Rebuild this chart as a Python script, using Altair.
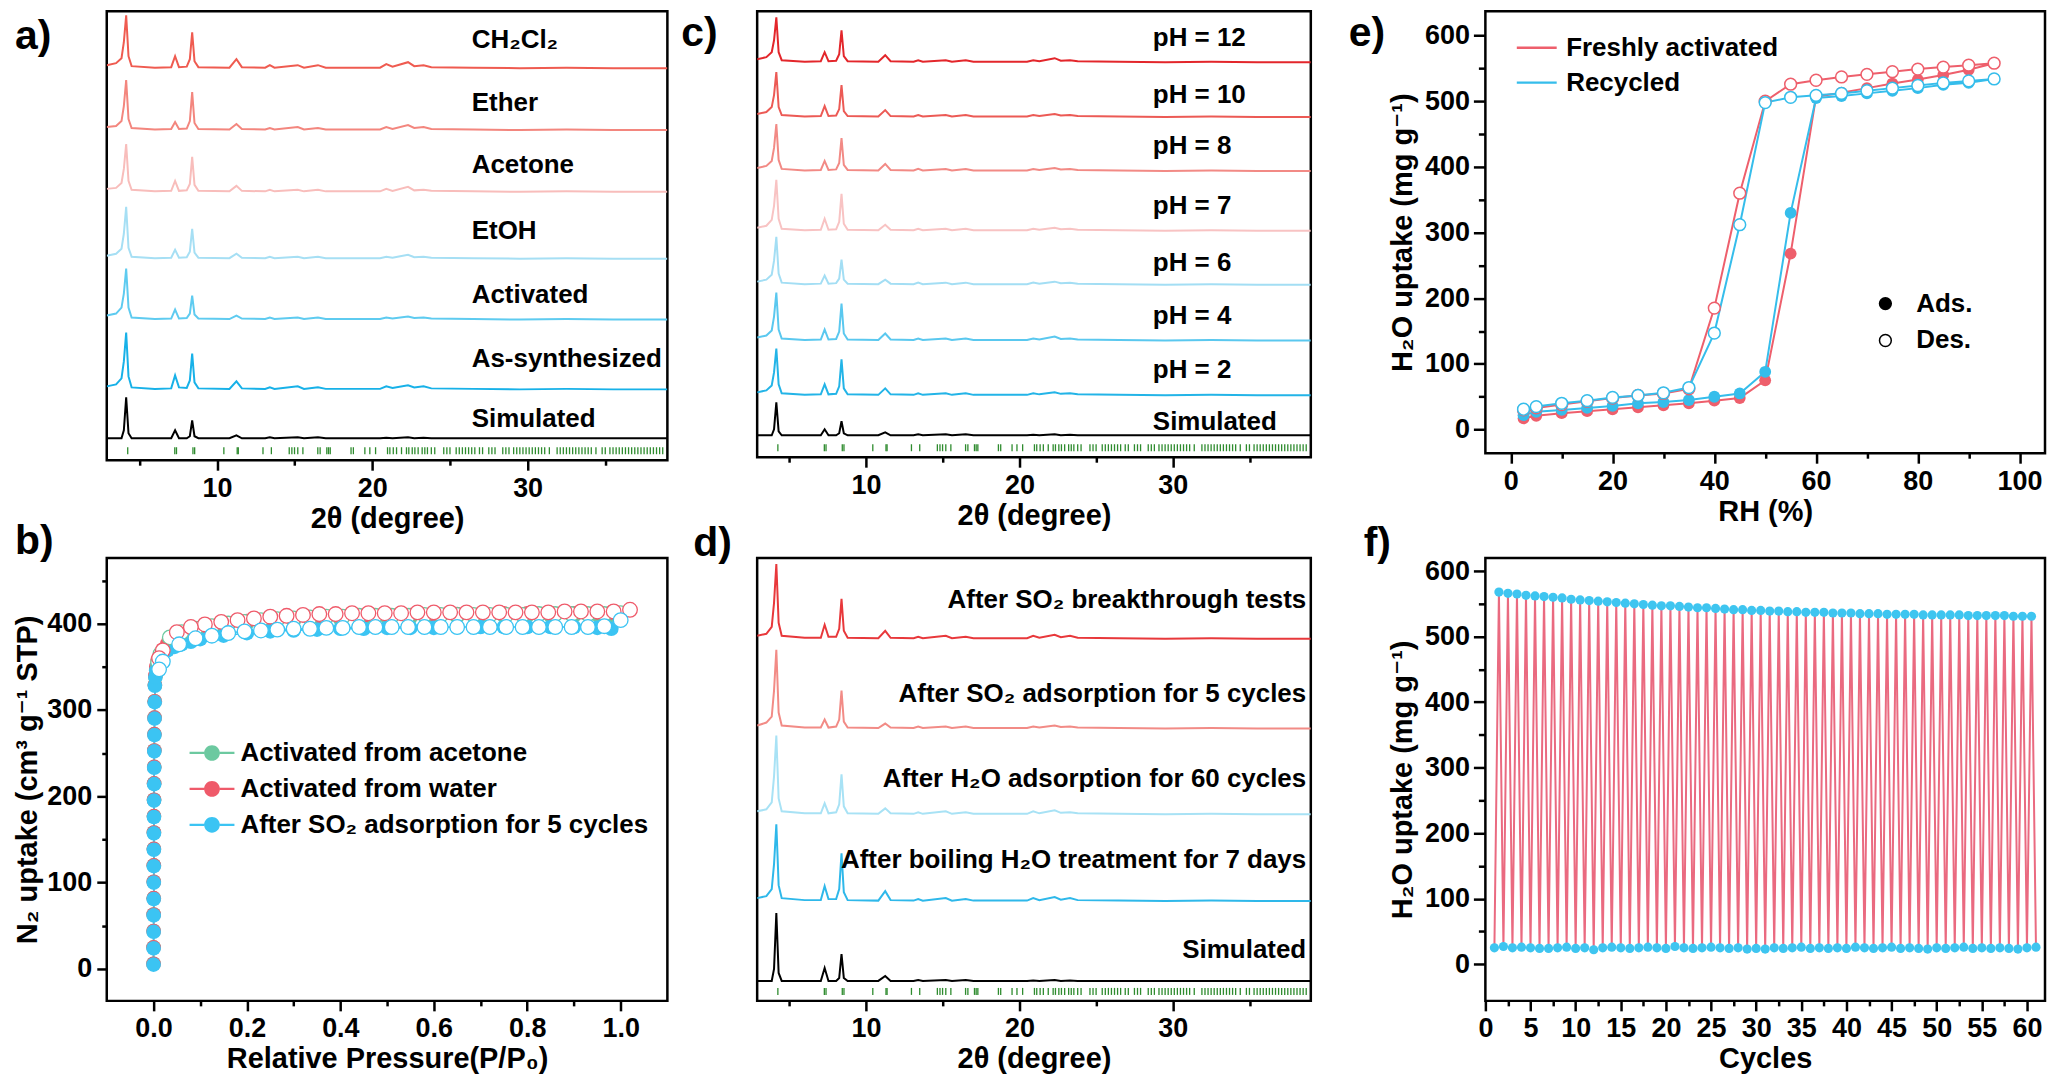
import altair as alt
import pandas as pd

FONT = "Liberation Sans, DejaVu Sans, sans-serif"

# ---------------- PXRD data (2-theta grid shared by all patterns) ----------------
TT = [2.9, 3.5, 3.85, 4.0, 4.15, 4.3, 4.5, 6.0, 7.05, 7.3, 7.55, 8.05, 8.25, 8.4, 8.55, 8.8,
      10.8, 11.25, 11.6, 13.1, 13.4, 13.7, 15.2, 15.6, 16.5, 17.0, 20.5, 20.9, 21.3, 22.3,
      22.7, 23.3, 23.8, 26.5, 29.5, 32.5, 35.5, 39.0]

BRAGG = [4.25, 7.28, 7.39, 8.45, 8.56, 10.44, 11.30, 11.37, 12.96, 13.50, 14.65, 14.82, 14.99,
         15.20, 15.53, 16.49, 16.64, 17.07, 17.18, 17.29, 18.63, 18.78, 19.52, 19.84, 20.21,
         20.98, 21.13, 21.35, 21.56, 21.88, 22.20, 22.35, 22.57, 22.74, 22.95, 23.21, 23.38,
         23.55, 23.80, 24.02, 24.6, 24.8, 25.0, 25.4, 25.6, 25.8, 26.0, 26.2, 26.4, 26.6, 26.9,
         27.1, 27.5, 27.7, 27.9, 28.4, 28.6, 28.8, 29.1, 29.3, 29.5, 29.7, 29.9, 30.1, 30.3,
         30.5, 30.7, 30.9, 31.1, 31.4, 31.9, 32.1, 32.3, 32.5, 32.7, 32.9, 33.1, 33.3, 33.5,
         33.7, 33.9, 34.1, 34.4, 34.8, 35.0, 35.3, 35.5, 35.7, 35.9, 36.1, 36.3, 36.5, 36.7,
         36.9, 37.1, 37.3, 37.5, 37.7, 37.9, 38.1, 38.3, 38.5, 38.7]

# panel a
A_NAMES = ["CH₂Cl₂", "Ether", "Acetone", "EtOH", "Activated", "As-synthesized", "Simulated"]
A_COLORS = ["#EF5B50", "#F3867E", "#F8BDBB", "#A6DFF4", "#5ECBF0", "#17B1E8", "#000000"]
A_CH2CL2 = [3, 5, 10, 26, 53, 12, 2, 0.5, 1, 12, 1, 1.5, 9, 36, 7, 1, 0.5, 9, 1, 0.5, 3, 0.5, 3, 0.5, 3, 0.5, 0.5, 4, 1.5, 6, 2, 3, 1, 0.5, 0, 0.5, 0, 0]
A_ETHER = [3, 4, 9, 24, 50, 11, 2, 0.5, 1, 8, 1, 1.5, 9, 38, 7, 1, 0.5, 6, 1, 0.5, 2, 0.5, 3, 0.5, 2, 0.5, 0.5, 3, 1, 5, 2, 3, 1, 0.5, 0, 0.5, 0, 0]
A_ACETONE = [3, 4, 9, 23, 48, 11, 2, 0.5, 1, 11, 1, 1.5, 8, 35, 7, 1, 0.5, 6, 1, 0.5, 2, 0.5, 2, 0.5, 2, 0.5, 0.5, 3, 1, 5, 1.5, 2, 1, 0.5, 0, 0.5, 0, 0]
A_ETOH = [3, 5, 10, 25, 52, 11, 2, 0.5, 1, 9, 1, 1.5, 7, 30, 6, 1, 0.5, 5, 1, 0.5, 2, 0.5, 2, 0.5, 2, 0.5, 0.5, 2, 1, 4, 1.5, 2, 1, 0.5, 0, 0.5, 0, 0]
A_ACTIVATED = [4, 6, 12, 26, 51, 12, 2, 0.5, 1, 10, 1, 1.5, 6, 24, 5, 1, 0.5, 4, 1, 0.5, 2, 0.5, 2, 0.5, 2, 0.5, 0.5, 2, 1, 3, 1.5, 2, 1, 0.5, 0, 0.5, 0, 0]
A_ASSYN = [3, 5, 11, 28, 57, 13, 2, 0.5, 1, 14, 2, 1.5, 9, 36, 7, 1, 0.5, 8, 1, 0.5, 2, 0.5, 3, 0.5, 2, 0.5, 0.5, 3, 1.5, 4, 2, 3, 1, 0.5, 0, 0.5, 0, 0]
A_SIM = [0, 0, 0, 8, 41, 5, 0, 0, 0, 8, 0, 0, 2, 18, 2, 0, 0, 3, 0, 0, 1, 0, 1, 0, 1, 0, 0, 0.5, 0, 1, 0, 0.5, 0, 0, 0, 0, 0, 0]
A_TRACES = [A_CH2CL2, A_ETHER, A_ACETONE, A_ETOH, A_ACTIVATED, A_ASSYN, A_SIM]
A_OFFSETS = [393, 331, 269, 202, 141, 71, 22]
A_LABEL_Y = [421, 358, 296, 230, 166, 101, 41]
A_LABEL_X = 26.4

# panel c
C_NAMES = ["pH = 12", "pH = 10", "pH = 8", "pH = 7", "pH = 6", "pH = 4", "pH = 2", "Simulated"]
C_COLORS = ["#E3262B", "#EC5A55", "#F28A85", "#F8C3C3", "#A3DEF4", "#5AC8EF", "#23B4E7", "#000000"]
C_PH12 = [3, 5, 10, 22, 45, 10, 2, 0.5, 1, 10, 1, 1.5, 8, 32, 6, 1, 0.5, 7, 1, 0.5, 2, 0.5, 2, 0.5, 2, 0.5, 0.5, 2, 1, 4, 1.5, 2, 1, 0.5, 0, 0.5, 0, 0]
C_PH10 = [3, 5, 10, 22, 45, 10, 2, 0.5, 1, 11, 1, 1.5, 8, 32, 6, 1, 0.5, 7, 1, 0.5, 2, 0.5, 2, 0.5, 2, 0.5, 0.5, 2, 1, 3, 1.5, 2, 1, 0.5, 0, 0.5, 0, 0]
C_PH8 = [3, 5, 10, 23, 47, 11, 2, 0.5, 1, 10, 1, 1.5, 8, 33, 6, 1, 0.5, 7, 1, 0.5, 2, 0.5, 2, 0.5, 2, 0.5, 0.5, 2, 1, 3, 1.5, 2, 1, 0.5, 0, 0.5, 0, 0]
C_PH7 = [3, 5, 11, 25, 51, 12, 2, 0.5, 1, 12, 1, 1.5, 9, 37, 7, 1, 0.5, 6, 1, 0.5, 2, 0.5, 2, 0.5, 2, 0.5, 0.5, 2, 1, 3, 1.5, 2, 1, 0.5, 0, 0.5, 0, 0]
C_PH6 = [3, 5, 10, 24, 48, 11, 2, 0.5, 1, 9, 1, 1.5, 6, 25, 5, 1, 0.5, 5, 1, 0.5, 2, 0.5, 2, 0.5, 2, 0.5, 0.5, 2, 1, 3, 1.5, 2, 1, 0.5, 0, 0.5, 0, 0]
C_PH4 = [3, 5, 10, 24, 48, 11, 2, 0.5, 1, 11, 1, 1.5, 9, 37, 7, 1, 0.5, 7, 1, 0.5, 2, 0.5, 2, 0.5, 2, 0.5, 0.5, 2, 1, 4, 1.5, 2, 1, 0.5, 0, 0.5, 0, 0]
C_PH2 = [3, 5, 10, 23, 47, 11, 2, 0.5, 1, 11, 1, 1.5, 9, 36, 7, 1, 0.5, 7, 1, 0.5, 2, 0.5, 2, 0.5, 2, 0.5, 0.5, 2, 1, 3, 1.5, 2, 1, 0.5, 0, 0.5, 0, 0]
C_SIM = [0, 0, 0, 6, 33, 4, 0, 0, 0, 6, 0, 0, 2, 14, 2, 0, 0, 3, 0, 0, 1, 0, 1, 0, 1, 0, 0, 0.5, 0, 1, 0, 0.5, 0, 0, 0, 0, 0, 0]
C_TRACES = [C_PH12, C_PH10, C_PH8, C_PH7, C_PH6, C_PH4, C_PH2, C_SIM]
C_OFFSETS = [396, 341, 287, 227, 173, 117, 62, 22]
C_LABEL_Y = [420, 363, 312, 252, 195, 142, 87, 35]
C_LABEL_X = 28.7

# panel d
D_NAMES = ["After SO₂ breakthrough tests", "After SO₂ adsorption for 5 cycles",
           "After H₂O adsorption for 60 cycles", "After boiling H₂O treatment for 7 days", "Simulated"]
D_COLORS = ["#E8383B", "#F28B86", "#A8E2F5", "#2EB8EA", "#000000"]
D_BREAK = [3, 5, 12, 36, 75, 16, 3, 1, 1, 14, 2, 2, 10, 40, 8, 1, 0.5, 8, 1, 0.5, 2, 0.5, 3, 0.5, 2, 0.5, 0.5, 3, 1, 4, 1.5, 3, 1, 0.5, 0, 0.5, 0, 0]
D_SO2 = [3, 6, 12, 38, 79, 16, 3, 1, 1, 9, 1, 2, 9, 38, 7, 1, 0.5, 5, 1, 0.5, 2, 0.5, 2, 0.5, 2, 0.5, 0.5, 2, 1, 3, 1.5, 2, 1, 0.5, 0, 0.5, 0, 0]
D_H2O = [3, 5, 12, 38, 79, 16, 3, 1, 1, 11, 1, 2, 10, 40, 8, 1, 0.5, 6, 1, 0.5, 2, 0.5, 3, 0.5, 2, 0.5, 0.5, 3, 1, 4, 1.5, 2, 1, 0.5, 0, 0.5, 0, 0]
D_BOIL = [3, 5, 12, 37, 77, 16, 3, 1, 1, 15, 2, 2, 12, 48, 9, 1, 0.5, 10, 1, 0.5, 2, 0.5, 3, 0.5, 2, 0.5, 0.5, 3, 1, 4, 1.5, 3, 1, 0.5, 0, 0.5, 0, 0]
D_SIM = [0, 0, 0, 12, 68, 8, 0, 0, 0, 13, 0, 0, 3, 27, 3, 0, 0, 5, 0, 0, 1, 0, 1, 0, 1, 0, 0, 0.5, 0, 1, 0, 0.5, 0, 0, 0, 0, 0, 0]
D_TRACES = [D_BREAK, D_SO2, D_H2O, D_BOIL, D_SIM]
D_OFFSETS = [363, 273, 187, 100, 20]
D_LABEL_Y = [402, 308, 222, 141, 51]
D_LABEL_X = 38.7

# ---------------- panel b : N2 isotherms ----------------
B_SERIES = ["Activated from acetone", "Activated from water", "After SO₂ adsorption for 5 cycles"]
B_COLORS = ["#6CC9A0", "#EF5A6A", "#3BC4F3"]
B_ADS_P = [0.0001, 0.0002, 0.0003, 0.0004, 0.0005, 0.0006, 0.0007, 0.0008, 0.0009, 0.001,
           0.0012, 0.0014, 0.0016, 0.0018, 0.002, 0.0023, 0.0026, 0.003, 0.004, 0.006,
           0.009, 0.014, 0.02, 0.03, 0.045, 0.06, 0.08, 0.1, 0.15, 0.2, 0.25, 0.3, 0.35,
           0.4, 0.45, 0.5, 0.55, 0.6, 0.65, 0.7, 0.75, 0.8, 0.85, 0.9, 0.95, 0.98]
B_ACE_ADS = [6, 25, 44, 63, 82, 101, 120, 139, 158, 177, 196, 215, 234, 253, 272, 291, 310, 329,
             338, 347, 355, 361, 367, 374, 381, 385, 389, 392, 397, 400, 402, 403, 404, 405, 406,
             407, 407, 408, 408, 408, 409, 409, 409, 409, 410, 410]
B_WAT_ADS = [6, 25, 44, 63, 82, 101, 120, 139, 158, 177, 196, 215, 234, 253, 272, 291, 310, 329,
             340, 350, 358, 364, 370, 377, 384, 388, 392, 395, 400, 403, 405, 406, 407, 408, 409,
             410, 410, 411, 411, 411, 412, 412, 412, 412, 413, 413]
B_SO2_ADS = [5, 24, 43, 62, 81, 100, 119, 138, 157, 176, 195, 214, 233, 252, 271, 290, 309, 328,
             338, 346, 353, 360, 365, 369, 373, 376, 379, 382, 386, 389, 391, 392, 393, 394, 394,
             395, 395, 395, 396, 396, 396, 396, 396, 396, 395, 394]
B_ACE_DES_P = [1.0, 0.965, 0.93, 0.895, 0.86, 0.825, 0.79, 0.755, 0.72, 0.685, 0.65, 0.615, 0.58,
               0.545, 0.51, 0.475, 0.44, 0.405, 0.37, 0.335, 0.3, 0.265, 0.23, 0.195, 0.16, 0.125,
               0.09, 0.06, 0.035, 0.015, 0.01]
B_ACE_DES = [412, 411, 411, 411, 411, 411, 410, 410, 410, 410, 410, 410, 410, 409, 409, 409, 409,
             408, 408, 407, 406, 405, 404, 402, 400, 397, 394, 390, 384, 365, 355]
B_WAT_DES_P = [1.02, 0.985, 0.95, 0.915, 0.88, 0.845, 0.81, 0.775, 0.74, 0.705, 0.67, 0.635, 0.6,
               0.565, 0.53, 0.495, 0.46, 0.425, 0.39, 0.355, 0.32, 0.285, 0.25, 0.215, 0.18, 0.145,
               0.11, 0.08, 0.05, 0.02, 0.012]
B_WAT_DES = [416, 414, 414, 414, 414, 413, 413, 413, 413, 413, 413, 413, 413, 413, 412, 412, 412,
             412, 411, 411, 410, 409, 408, 406, 404, 402, 399, 396, 390, 369, 360]
B_SO2_DES_P = [1.0, 0.965, 0.93, 0.895, 0.86, 0.825, 0.79, 0.755, 0.72, 0.685, 0.65, 0.615, 0.58,
               0.545, 0.51, 0.475, 0.44, 0.405, 0.37, 0.335, 0.3, 0.265, 0.23, 0.195, 0.16, 0.125,
               0.09, 0.055, 0.02, 0.012]
B_SO2_DES = [404, 397, 396, 396, 396, 396, 396, 396, 396, 396, 396, 396, 396, 396, 396, 396, 396,
             395, 395, 394, 394, 393, 392, 391, 389, 386, 383, 376, 356, 347]

# ---------------- panel e : H2O isotherms ----------------
E_SERIES = ["Freshly activated", "Recycled"]
E_COLORS = ["#EE5F6C", "#35BDEB"]
E_RH_ADS = [2.5, 5, 10, 15, 20, 25, 30, 35, 40, 45, 50, 55, 60, 65, 70, 75, 80, 85, 90, 95]
E_FRESH_ADS = [17, 21, 25, 28, 31, 34, 37, 40, 44, 48, 75, 268, 507, 513, 520, 527, 533, 540, 548, 558]
E_REC_ADS = [22, 27, 30, 33, 36, 40, 42, 45, 50, 55, 88, 330, 505, 508, 512, 516, 520, 525, 528, 534]
E_RH_DES = [95, 90, 85, 80, 75, 70, 65, 60, 55, 50, 45, 40, 35, 30, 25, 20, 15, 10, 5, 2.5]
E_FRESH_DES = [558, 555, 552, 549, 545, 541, 537, 532, 526, 500, 360, 185, 62, 55, 52, 48, 43, 38, 33, 30]
E_REC_DES = [534, 531, 528, 524, 520, 516, 512, 509, 506, 498, 312, 147, 64, 56, 52, 49, 44, 40, 35, 31]

# ---------------- panel f : cycling ----------------
F_HIGH = [568, 566, 565, 563, 562, 561, 560, 559, 557, 556,
          555, 554, 553, 552, 551, 550, 549, 548, 547, 547,
          546, 545, 544, 544, 543, 542, 541, 541, 540, 540,
          539, 539, 538, 538, 537, 537, 537, 536, 536, 536,
          535, 535, 535, 534, 534, 534, 534, 533, 533, 533,
          533, 533, 532, 532, 532, 532, 532, 531, 531, 531]
F_LOW = [25, 27, 25, 26, 25, 24, 24, 25, 26, 24,
         25, 22, 25, 26, 25, 24, 25, 26, 25, 24,
         27, 25, 24, 25, 26, 25, 24, 25, 23, 24,
         23, 25, 24, 25, 26, 24, 25, 24, 25, 24,
         26, 25, 24, 25, 26, 24, 25, 24, 23, 25,
         24, 25, 26, 24, 25, 24, 25, 24, 23, 25, 26]


# ---------------- helpers ----------------
def mm_axis(values, test, title, major, minor, fmt=None, label_pad=4, title_pad=4):
    kw = dict(values=values, title=title,
              labelExpr="(" + test + ") ? datum.label : ''",
              tickSize={"condition": {"test": test, "value": major}, "value": minor},
              labelPadding=label_pad, titlePadding=title_pad)
    if fmt is not None:
        kw["format"] = fmt
    return alt.Axis(**kw)


def letter(text, dx, dy):
    return alt.TitleParams(text=text, anchor="start", frame="group", orient="top", offset=0,
                           dx=dx, dy=dy, baseline="top", font=FONT, fontSize=41,
                           fontWeight="bold", color="black")


PX_AXIS = mm_axis([5, 10, 15, 20, 25, 30, 35], "datum.value % 10 === 0", "2θ (degree)",
                  10, 5, label_pad=5, title_pad=3)


def pxrd(names, traces, offsets, colors, label_x, label_y, align, width, height, ttl):
    rows = []
    for n, tr, off in zip(names, traces, offsets):
        for i, (t, v) in enumerate(zip(TT, tr)):
            rows.append({"name": n, "t": t, "y": off + v, "i": i})
    df = pd.DataFrame(rows)
    xs = alt.Scale(domain=[2.9, 39.0], nice=False, zero=False)
    ys = alt.Scale(domain=[0, height], nice=False, zero=False)
    lines = alt.Chart(df).mark_line(strokeWidth=2, clip=True).encode(
        x=alt.X("t:Q", scale=xs, axis=PX_AXIS),
        y=alt.Y("y:Q", scale=ys, axis=None),
        color=alt.Color("name:N", scale=alt.Scale(domain=names, range=colors), legend=None),
        order="i:Q",
    )
    ticks = alt.Chart(pd.DataFrame({"t": BRAGG})).mark_rule(color="#2E8B2E", strokeWidth=1.3).encode(
        x=alt.X("t:Q", scale=xs, axis=PX_AXIS),
        y=alt.Y(datum=6, scale=ys, axis=None),
        y2=alt.Y2(datum=13),
    )
    lab = pd.DataFrame({"name": names, "x": [label_x] * len(names), "y": label_y})
    labels = alt.Chart(lab).mark_text(align=align, baseline="middle", font=FONT, fontSize=26,
                                      fontWeight="bold", color="black").encode(
        x=alt.X("x:Q", scale=xs, axis=PX_AXIS),
        y=alt.Y("y:Q", scale=ys, axis=None),
        text="name:N",
    )
    return alt.layer(lines, ticks, labels).properties(width=width, height=height, title=ttl)


def iso_df(p_ads, n_ads, p_des, n_des, series):
    rows = []
    k = 0
    for p, n in zip(p_ads, n_ads):
        rows.append({"p": p, "n": n, "br": "Ads.", "k": k, "s": series})
        k += 1
    for p, n in zip(p_des, n_des):
        rows.append({"p": p, "n": n, "br": "Des.", "k": k, "s": series})
        k += 1
    return pd.DataFrame(rows)


# ---------------- panels a, c, d ----------------
chart_a = pxrd(A_NAMES, A_TRACES, A_OFFSETS, A_COLORS, A_LABEL_X, A_LABEL_Y, "left", 562, 450,
               letter("a)", -92, 47))
chart_c = pxrd(C_NAMES, C_TRACES, C_OFFSETS, C_COLORS, C_LABEL_X, C_LABEL_Y, "left", 555, 447,
               letter("c)", -76, 44))
chart_d = pxrd(D_NAMES, D_TRACES, D_OFFSETS, D_COLORS, D_LABEL_X, D_LABEL_Y, "right", 555, 444,
               letter("d)", -64, 7))

# ---------------- panel b ----------------
b_dfs = [iso_df(B_ADS_P, B_ACE_ADS, B_ACE_DES_P, B_ACE_DES, B_SERIES[0]),
         iso_df(B_ADS_P, B_WAT_ADS, B_WAT_DES_P, B_WAT_DES, B_SERIES[1]),
         iso_df(B_ADS_P, B_SO2_ADS, B_SO2_DES_P, B_SO2_DES, B_SERIES[2])]
B_XAXIS = mm_axis([0.0, 0.1, 0.2, 0.3, 0.4, 0.5, 0.6, 0.7, 0.8, 0.9, 1.0],
                  "round(datum.value * 10) % 2 === 0", "Relative Pressure(P/P₀)", 10, 5,
                  fmt=".1f", label_pad=5, title_pad=3)
B_YAXIS = mm_axis(list(range(0, 451, 50)), "datum.value % 100 === 0",
                  "N₂ uptake (cm³ g⁻¹ STP)", 10, 5, label_pad=5, title_pad=4)
bx = alt.X("p:Q", scale=alt.Scale(domain=[-0.1, 1.1], nice=False, zero=False), axis=B_XAXIS)
by = alt.Y("n:Q", scale=alt.Scale(domain=[-37, 476], nice=False, zero=False), axis=B_YAXIS)
B_SYM = ("M-1,-0.05L-0.35,-0.05L-0.35,0.05L-1,0.05Z "
         "M0.35,-0.05L1,-0.05L1,0.05L0.35,0.05Z "
         "M0.35,0A0.35,0.35,0,1,1,-0.35,0A0.35,0.35,0,1,1,0.35,0Z")
b_legend = alt.Legend(title=None, orient="none", legendX=83, legendY=173, symbolType=B_SYM,
                      symbolSize=2025, symbolStrokeWidth=0, rowPadding=-14.5, labelOffset=6,
                      padding=0)
b_lines = [alt.Chart(df).mark_line(color=c, strokeWidth=1.5).encode(x=bx, y=by, order="k:Q")
           for df, c in zip(b_dfs, B_COLORS)]
b_ads_df = pd.concat([df[df["br"] == "Ads."] for df in b_dfs])
b_ads = alt.Chart(b_ads_df).mark_point(filled=True, size=215, opacity=1).encode(
    x=bx, y=by,
    color=alt.Color("s:N", scale=alt.Scale(domain=B_SERIES, range=B_COLORS), legend=b_legend),
)
b_des = [alt.Chart(df[df["br"] == "Des."]).mark_point(filled=True, fill="white", stroke=c,
                                                       strokeWidth=1.3, size=215, opacity=1).encode(x=bx, y=by)
         for df, c in zip(b_dfs, B_COLORS)]
chart_b = alt.layer(*b_lines, b_ads, *b_des).properties(width=562, height=444,
                                                         title=letter("b)", -92, 5))

# ---------------- panel e ----------------
e_dfs = [iso_df(E_RH_ADS, E_FRESH_ADS, E_RH_DES, E_FRESH_DES, E_SERIES[0]),
         iso_df(E_RH_ADS, E_REC_ADS, E_RH_DES, E_REC_DES, E_SERIES[1])]
E_XAXIS = mm_axis(list(range(0, 101, 10)), "datum.value % 20 === 0", "RH (%)", 10, 5,
                  label_pad=5, title_pad=3)
E_YAXIS = mm_axis(list(range(0, 601, 50)), "datum.value % 100 === 0", "H₂O uptake (mg g⁻¹)",
                  12, 7, label_pad=4, title_pad=7)
ex = alt.X("p:Q", scale=alt.Scale(domain=[-5, 105], nice=False, zero=False), axis=E_XAXIS)
ey = alt.Y("n:Q", scale=alt.Scale(domain=[-36, 637], nice=False, zero=False), axis=E_YAXIS)
e_series_legend = alt.Legend(title=None, orient="none", legendX=30, legendY=15, symbolType="stroke",
                             symbolSize=1600, symbolStrokeWidth=2.5, rowPadding=-6, labelOffset=8,
                             padding=0)
e_branch_legend = alt.Legend(title=None, orient="none", legendX=388, legendY=280, symbolType="circle",
                             symbolSize=140, symbolStrokeColor="black", symbolStrokeWidth=1.5,
                             rowPadding=11, labelOffset=18, padding=0)
e_all = pd.concat(e_dfs)
e_lines = alt.Chart(e_all).mark_line(strokeWidth=2).encode(
    x=ex, y=ey, order="k:Q",
    color=alt.Color("s:N", scale=alt.Scale(domain=E_SERIES, range=E_COLORS), legend=e_series_legend),
)
e_ads = [alt.Chart(df[df["br"] == "Ads."]).mark_point(filled=True, color=c, size=140, opacity=1).encode(x=ex, y=ey)
         for df, c in zip(e_dfs, E_COLORS)]
e_des = [alt.Chart(df[df["br"] == "Des."]).mark_point(filled=True, stroke=c, strokeWidth=1.5,
                                                       size=140, opacity=1).encode(
    x=ex, y=ey,
    fill=alt.Fill("br:N", scale=alt.Scale(domain=["Ads.", "Des."], range=["black", "white"]),
                  legend=e_branch_legend))
         for df, c in zip(e_dfs, E_COLORS)]
chart_e = alt.layer(e_lines, *e_ads, *e_des).properties(width=561, height=443,
                                                         title=letter("e)", -137, 44))

# ---------------- panel f ----------------
f_rows = []
k = 0
for i in range(len(F_HIGH)):
    f_rows.append({"c": i + 1, "v": F_LOW[i], "k": k}); k += 1
    f_rows.append({"c": i + 1.5, "v": F_HIGH[i], "k": k}); k += 1
f_rows.append({"c": len(F_HIGH) + 1, "v": F_LOW[-1], "k": k})
f_df = pd.DataFrame(f_rows)
F_XAXIS = mm_axis([x / 2 for x in range(0, 121, 5)], "datum.value % 5 === 0", "Cycles", 10, 5,
                  label_pad=5, title_pad=3)
F_YAXIS = mm_axis(list(range(0, 601, 50)), "datum.value % 100 === 0", "H₂O uptake (mg g⁻¹)",
                  12, 7, label_pad=4, title_pad=7)
fx = alt.X("c:Q", scale=alt.Scale(domain=[0, 62], nice=False, zero=False), axis=F_XAXIS)
fy = alt.Y("v:Q", scale=alt.Scale(domain=[-56, 620], nice=False, zero=False), axis=F_YAXIS)
f_line = alt.Chart(f_df).mark_line(color="#EA6A80", strokeWidth=2).encode(x=fx, y=fy, order="k:Q")
f_pts = alt.Chart(f_df).mark_point(filled=True, color="#3EC5F0", size=85, opacity=1).encode(x=fx, y=fy)
chart_f = alt.layer(f_line, f_pts).properties(width=561, height=444, title=letter("f)", -122, 8))


def spacer(w):
    return alt.Chart(pd.DataFrame({"v": [0]})).mark_point(opacity=0).encode(
        x=alt.X("v:Q", axis=None), y=alt.Y("v:Q", axis=None)
    ).properties(width=w, height=10, view=alt.ViewBackground(stroke="transparent"))


chart = alt.concat(
    chart_a, spacer(90), chart_c, spacer(175), chart_e,
    chart_b, spacer(90), chart_d, spacer(175), chart_f,
    columns=5, spacing={"row": 98, "column": 0}, bounds="flush",
).resolve_scale(
    color="independent", fill="independent"
).resolve_legend(
    color="independent", fill="independent"
).properties(
    padding={"left": 4, "top": 0, "right": 0, "bottom": 0}
).configure_view(
    stroke="black", strokeWidth=2.5
).configure_axis(
    labelFont=FONT, labelFontSize=27, labelFontWeight="bold", labelColor="black",
    titleFont=FONT, titleFontSize=29, titleFontWeight="bold", titleColor="black",
    tickColor="black", tickWidth=2.5, domain=False, grid=False, labelFlush=False,
    labelOverlap=False,
).configure_legend(
    labelFont=FONT, labelFontSize=26, labelFontWeight="bold", labelColor="black", labelLimit=800,
)

chart.save("out.html", embed_options={"renderer": "svg", "actions": False})
